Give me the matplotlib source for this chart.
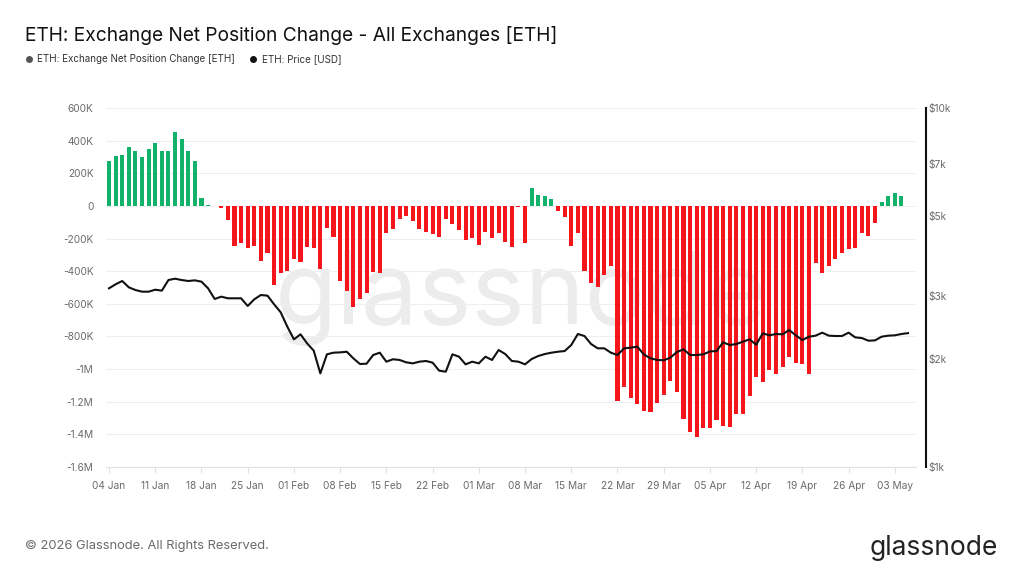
import pandas as pd
import matplotlib
matplotlib.use("Agg")
import matplotlib.pyplot as plt
import matplotlib.dates as mdates
from matplotlib.lines import Line2D
from matplotlib.ticker import FixedLocator, NullLocator

plt.rcParams["font.family"] = ["Inter", "DejaVu Sans"]

# daily net position change (thousand ETH), 04 Jan .. 04 May
net_k = [
    278, 303, 309, 364, 334, 299, 348, 385, 334, 338,
    452, 409, 338, 278, 47, 6, 2, -10, -86, -244,
    -229, -260, -244, -338, -291, -485, -413, -397, -325, -342,
    -254, -260, -387, -133, -190, -458, -522, -618, -571, -532,
    -405, -409, -164, -143, -80, -61, -94, -141, -157, -172,
    -188, -80, -110, -147, -209, -194, -239, -157, -198, -164,
    -219, -250, -4, -227, 108, 67, 63, 41, -29, -65,
    -243, -168, -397, -470, -499, -423, -368, -1194, -1112, -1180,
    -1215, -1256, -1262, -1207, -1160, -1072, -1140, -1304, -1386, -1419,
    -1358, -1358, -1309, -1350, -1354, -1276, -1276, -1166, -1051, -1082,
    -1006, -1031, -990, -924, -961, -971, -1031, -348, -409, -368,
    -327, -290, -266, -260, -168, -184, -102, 27, 61, 78,
    61,
]

# ETH price (USD), 04 Jan .. 05 May
price = [
    3146, 3228, 3297, 3166, 3112, 3079, 3079, 3118, 3099, 3318,
    3346, 3318, 3297, 3311, 3283, 3146, 2938, 2982, 2951, 2951,
    2951, 2809, 2932, 3014, 3001, 2839, 2697, 2460, 2268, 2342,
    2210, 2109, 1823, 2060, 2082, 2086, 2095, 2008, 1936, 1940,
    2051, 2082, 1965, 1996, 1987, 1957, 1944, 1965, 1974, 1953,
    1855, 1843, 2060, 2029, 1932, 1965, 1944, 2029, 1987, 2118,
    2064, 1974, 1965, 1932, 1999, 2038, 2064, 2082, 2095, 2104,
    2187, 2347, 2317, 2201, 2141, 2141, 2082, 2051, 2141, 2150,
    2164, 2058, 2008, 1987, 1983, 2016, 2091, 2127, 2051, 2051,
    2060, 2099, 2104, 2225, 2187, 2201, 2234, 2268, 2191, 2357,
    2327, 2347, 2342, 2408, 2327, 2258, 2307, 2322, 2367, 2322,
    2317, 2317, 2367, 2297, 2287, 2248, 2253, 2307, 2322, 2327,
    2347, 2360,
]

left_ticks = [600, 400, 200, 0, -200, -400, -600, -800, -1000, -1200, -1400, -1600]
left_labels = ["600K", "400K", "200K", "0", "-200K", "-400K", "-600K", "-800K",
               "-1M", "-1.2M", "-1.4M", "-1.6M"]
right_ticks = [1000, 2000, 3000, 5000, 7000, 10000]
right_labels = ["$1k", "$2k", "$3k", "$5k", "$7k", "$10k"]

GREEN = "#12b26b"
RED = "#f5161b"
GREY = "#6b6b6b"

start = pd.Timestamp("2026-01-04")
bar_dates = pd.date_range(start, periods=len(net_k), freq="D")
price_dates = pd.date_range(start, periods=len(price), freq="D")
colors = [GREEN if v >= 0 else RED for v in net_k]

fig = plt.figure(figsize=(10.24, 5.76), dpi=100)
ax = fig.add_axes([0.1035, 0.1892, 0.791, 0.6233])
ax2 = ax.twinx()

ax.bar(bar_dates, [v * 1000 for v in net_k], width=0.62, color=colors, zorder=2)
ax2.plot(price_dates, price, color="#111111", lw=1.5, zorder=3)

# watermark
ax.text(0.513, 0.47, "glassnode", transform=ax.transAxes, fontsize=73,
        color="#ececec", ha="center", va="center", zorder=0)

ax.set_ylim(-1.6e6, 0.6e6)
ax.yaxis.set_major_locator(FixedLocator([t * 1000 for t in left_ticks]))
ax.set_yticklabels(left_labels)
ax.grid(axis="y", color="#efefef", lw=0.8, zorder=0)
ax.set_axisbelow(True)

ax.set_xlim(start - pd.Timedelta(hours=11), start + pd.Timedelta(days=122.2))
xt = pd.date_range("2026-01-04", "2026-05-03", freq="7D")
ax.set_xticks(xt)
ax.xaxis.set_major_formatter(mdates.DateFormatter("%d %b"))

ax2.set_yscale("log")
ax2.set_ylim(1000, 10000)
ax2.yaxis.set_major_locator(FixedLocator(right_ticks))
ax2.yaxis.set_minor_locator(NullLocator())
ax2.set_yticklabels(right_labels)

for a in (ax, ax2):
    for s in ("top", "left", "right", "bottom"):
        a.spines[s].set_visible(False)
ax.spines["bottom"].set_visible(True)
ax.spines["bottom"].set_color("#e2e2e2")
ax2.spines["right"].set_visible(True)
ax2.spines["right"].set_position(("outward", 7))
ax2.spines["right"].set_color("#111111")
ax2.spines["right"].set_linewidth(1.5)

ax.tick_params(axis="y", length=0, labelsize=7.3, labelcolor=GREY, pad=9)
ax.tick_params(axis="x", length=4, color="#e2e2e2", labelsize=7.3, labelcolor=GREY, pad=6)
ax2.tick_params(axis="y", length=0, labelsize=7.3, labelcolor=GREY, pad=2)

# title, legend, footer
fig.text(0.0245, 0.939, "ETH: Exchange Net Position Change - All Exchanges [ETH]",
         fontsize=13.8, color="#111111", va="center")
fig.add_artist(Line2D([0.0283], [0.897], marker="o", ms=4, color="#555555",
                      transform=fig.transFigure))
fig.text(0.036, 0.897, "ETH: Exchange Net Position Change [ETH]", fontsize=7.1,
         color="#333333", va="center")
fig.add_artist(Line2D([0.2475], [0.897], marker="o", ms=4, color="#111111",
                      transform=fig.transFigure))
fig.text(0.2555, 0.897, "ETH: Price [USD]", fontsize=7.1, color="#333333", va="center")

fig.text(0.0245, 0.052, "\u00a9 2026 Glassnode. All Rights Reserved.", fontsize=9.3,
         color=GREY, va="center")
fig.text(0.974, 0.049, "glassnode", fontsize=19, color="#222222", ha="right", va="center")

fig.savefig("out.png", dpi=100)
